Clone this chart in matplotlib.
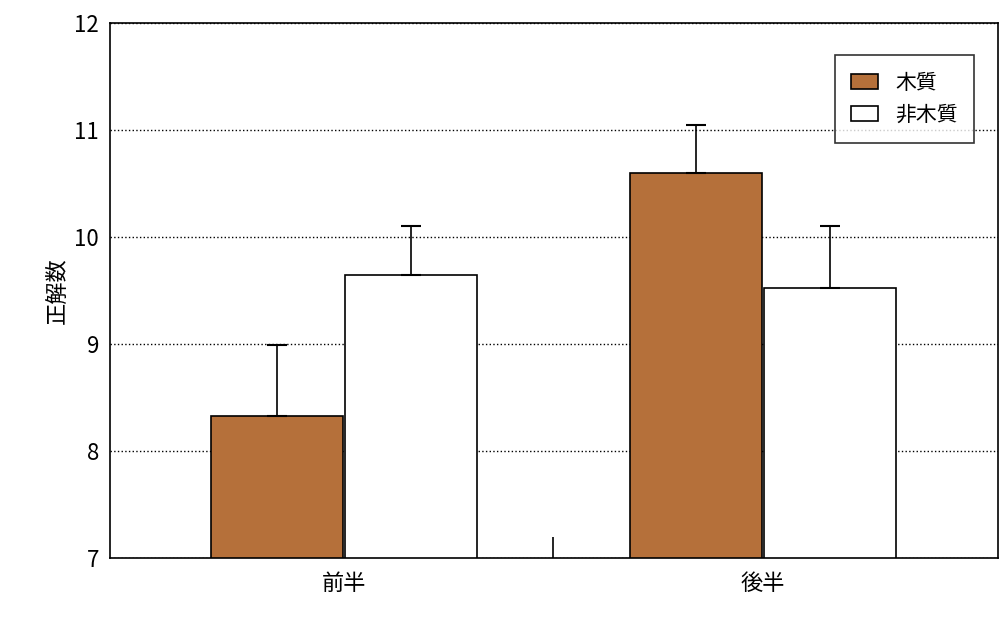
import matplotlib.pyplot as plt
import numpy as np

plt.rcParams['font.family'] = ['Noto Sans CJK JP', 'DejaVu Sans']

categories = ['前半', '後半']
series = ['木質', '非木質']
means = {'木質': [8.33, 10.6], '非木質': [9.64, 9.52]}
errs = {'木質': [0.66, 0.45], '非木質': [0.46, 0.58]}
colors = {'木質': '#b5703a', '非木質': 'white'}

fig = plt.figure(figsize=(10, 6.44), dpi=100)
ax = fig.add_axes([0.110, 0.134, 0.888, 0.830])

x = np.arange(len(categories))
w = 0.315
for i, s in enumerate(series):
    pos = x + (i - 0.5) * (w + 0.005)
    ax.bar(pos, np.array(means[s]) - 7, w, bottom=7, color=colors[s],
           edgecolor='black', linewidth=1.2, label=s, zorder=3)
    ax.errorbar(pos, means[s], yerr=[np.zeros(2), errs[s]], fmt='none',
                ecolor='black', elinewidth=1.2, capsize=7, capthick=1.5, zorder=4)

ax.set_ylim(7, 12)
ax.set_xlim(-0.558, 1.561)
ax.set_yticks([7, 8, 9, 10, 11, 12])
ax.set_xticks(x)
ax.set_xticklabels(categories, fontsize=16)
ax.tick_params(axis='x', length=0, pad=10)
ax.tick_params(axis='y', length=0, labelsize=16, pad=8)
ax.set_xticks([0.5], minor=True)
ax.tick_params(axis='x', which='minor', direction='in', length=15, width=1.2)
ax.yaxis.grid(True, linestyle=':', color='black', linewidth=1, zorder=0)
ax.set_ylabel('正解数', fontsize=16)
for sp in ax.spines.values():
    sp.set_linewidth(1.2)

leg = ax.legend(loc='upper right', fontsize=15, frameon=True, fancybox=False,
                edgecolor='black', borderpad=0.8, handlelength=1.3,
                bbox_to_anchor=(0.985, 0.96))
leg.get_frame().set_linewidth(1.2)

fig.savefig('out.png')
